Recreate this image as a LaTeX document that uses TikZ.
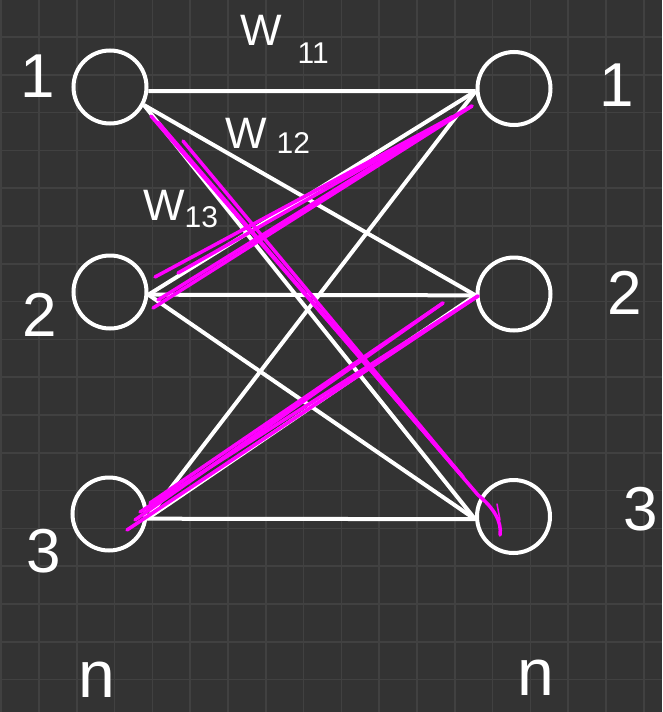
\documentclass[tikz,border=0pt]{standalone}
\usepackage{fontspec}
\setmainfont{Liberation Sans}
\definecolor{bgc}{HTML}{333333}
\definecolor{gridc}{HTML}{414141}
\definecolor{mag}{HTML}{FF00FF}
\begin{document}
\begin{tikzpicture}[x=1pt,y=-1pt,
  neuron/.style={circle,draw=white,line width=4pt,minimum size=73pt,inner sep=0pt},
  conn/.style={draw=white,line width=4pt},
  hl/.style={draw=mag,line width=3.5pt,line cap=round,line join=round},
  gridline/.style={draw=gridc,line width=1.5pt},
  lab/.style={text=white,inner sep=0pt,font=\fontsize{62}{62}\selectfont},
  nlab/.style={text=white,inner sep=0pt,anchor=base,font=\fontsize{66}{66}\selectfont},
  wlab/.style={text=white,inner sep=0pt,anchor=base west,font=\fontsize{44}{44}\selectfont}]
\fill[bgc] (0,0) rectangle (662,712);
\useasboundingbox (0,0) rectangle (662,712);
% grid
\foreach \k in {0,...,17} \draw[gridline] ({1.2+37.8*\k},0) -- ({1.2+37.8*\k},712);
\foreach \k in {1,...,18} \draw[gridline] (0,{-0.8+37.8*\k}) -- (662,{-0.8+37.8*\k});
% neurons
\node[neuron] (L1) at (110,87) {};
\node[neuron] (L2) at (110,292) {};
\node[neuron] (L3) at (109,514) {};
\node[neuron] (R1) at (514,88.5) {};
\node[neuron] (R2) at (514,294) {};
\node[neuron] (R3) at (513.5,516.5) {};
% connections
\draw[conn] (L1.-6) -- (R1.184);
\draw[conn] (L1.-28) -- (R2.182);
\draw[conn] (L1.-28) -- (R3.184);
\draw[conn] (L2.-4) -- (R1.184);
\draw[conn] (L2.-4) -- (R2.182);
\draw[conn] (L2.-4) -- (R3.184);
\draw[conn] (L3.-7) -- (R1.184);
\draw[conn] (L3.-7) -- (R2.182);
\draw[conn] (L3.-7) -- (R3.184);
% magenta highlights: L2 -> R1
\draw[hl] (155,277) -- (452,117);
\draw[hl] (178,273) -- (472,106);
\draw[hl] (153,308) -- (472,106);
\draw[hl] (158,300) -- (452,117);
% L1 -> R3
\draw[hl] (151,116) -- (463,477);
\draw[hl] (183,141) -- (463,477);
\draw[hl] (158,122) -- (478,495) .. controls (494,508) and (502,522) .. (500,535);
\draw[hl,line width=1.5pt] (497,504) -- (500,520);
% L3 -> R2
\draw[hl] (127,530) -- (478,296);
\draw[hl] (150,503) -- (443,303);
\draw[hl] (135,520) -- (443,303);
\draw[hl] (140,512) -- (478,296);
% labels
\node[lab] (tl1) at (38,76) {1};
\node[lab] (tl2) at (40,315) {2};
\node[lab] (tl3) at (44,551) {3};
\node[lab] (tr1) at (617,85) {1};
\node[lab] (tr2) at (625,293) {2};
\node[lab] (tr3) at (641,509) {3};
\node[nlab] (nl) at (97,697) {n};
\node[nlab] (nr) at (536,695) {n};
\node[wlab] (w11) at (240,45) {W\hspace{16pt}\raisebox{-18pt}{\fontsize{30}{30}\selectfont 11}};
\node[wlab] (w12) at (225,148) {W\hspace{10pt}\raisebox{-5pt}{\fontsize{30}{30}\selectfont 12}};
\node[wlab] (w13) at (143,220) {W\hspace{0pt}\raisebox{-7pt}{\fontsize{30}{30}\selectfont 13}};
\end{tikzpicture}
\end{document}
